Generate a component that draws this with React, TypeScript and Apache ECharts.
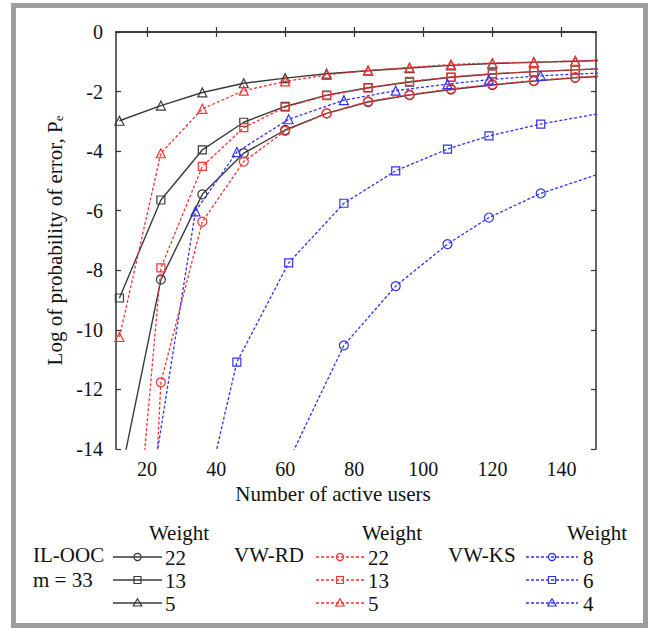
import React, { useEffect, useRef } from "react";
import * as echarts from "echarts";

// ---- data ----
const X_TICKS = [20, 40, 60, 80, 100, 120, 140];
const X_OOC = [12, 24, 36, 48, 60, 72, 84, 96, 108, 120, 132, 144, 156];
const OOC_W22 = [-15.1, -8.31, -5.45, -4.07, -3.29, -2.73, -2.35, -2.12, -1.93, -1.78, -1.65, -1.54, -1.46];
const OOC_W13 = [-8.93, -5.64, -3.96, -3.03, -2.5, -2.12, -1.87, -1.68, -1.52, -1.41, -1.33, -1.27, -1.21];
const OOC_W5 = [-2.98, -2.47, -2.03, -1.72, -1.55, -1.4, -1.3, -1.21, -1.12, -1.06, -1.02, -0.98, -0.94];
const RD_W22 = [-39, -11.76, -6.37, -4.35, -3.32, -2.73, -2.33, -2.1, -1.91, -1.76, -1.63, -1.52, -1.45];
const RD_W13 = [-23.6, -7.92, -4.51, -3.21, -2.52, -2.14, -1.88, -1.66, -1.51, -1.4, -1.33, -1.27, -1.21];
const RD_W5 = [-10.24, -4.07, -2.58, -1.97, -1.66, -1.44, -1.29, -1.19, -1.09, -1.04, -1.01, -0.97, -0.93];
const X_KS = [22, 34, 46, 61, 77, 92, 107, 119, 134, 165];
const KS_W8 = [null, null, null, -14.4, -10.52, -8.53, -7.12, -6.23, -5.42, -4.22];
const KS_W6 = [null, -17.1, -11.08, -7.75, -5.75, -4.66, -3.93, -3.49, -3.09, -2.45];
const KS_W4 = [-14.8, -6.02, -4.03, -2.93, -2.29, -1.97, -1.75, -1.6, -1.47, -1.3];

const GROUPS = ["IL-OOC", "VW-RD", "VW-KS"];
const WEIGHTS_OOC = ["22", "13", "5"];
const WEIGHTS_RD = ["22", "13", "5"];
const WEIGHTS_KS = ["8", "6", "4"];

const FONT = "Liberation Serif";
const BLACK = "#3a3a3a";
const RED = "#ff3030";
const BLUE = "#3030ff";

const zip = (xs: number[], ys: (number | null)[]) =>
  xs.map((x, i) => [x, ys[i]]);

function mkSeries(name: string, xs: number[], ys: (number | null)[], color: string, symbol: string, dashed: boolean) {
  return {
    type: "line",
    name,
    data: zip(xs, ys),
    symbol,
    symbolSize: symbol === "rect" ? 8 : 9,
    showAllSymbol: true,
    clip: true,
    connectNulls: false,
    lineStyle: { color, width: dashed ? 1.3 : 1.4, type: dashed ? [3, 2] : "solid" },
    itemStyle: { color: "rgba(0,0,0,0)", borderColor: color, borderWidth: 1.2 },
    emphasis: { disabled: true },
    z: dashed ? 3 : 2,
  };
}

function legendBlock(label: string, label2: string | null, weights: string[], color: string, dashed: boolean,
  labelX: number, lineX1: number, lineX2: number, valX: number, headX: number) {
  const rows = [557, 580, 603];
  const shapes = ["circle", "rect", "triangle"];
  const els: any[] = [];
  const ts = { fontFamily: FONT, fontSize: 21, fill: "#111" };
  els.push({ type: "text", x: headX, y: 533, style: { ...ts, text: "Weight", align: "center", verticalAlign: "middle" } });
  els.push({ type: "text", x: labelX, y: rows[0] - 2, style: { ...ts, text: label, align: "left", verticalAlign: "middle" } });
  if (label2) els.push({ type: "text", x: labelX, y: rows[1], style: { ...ts, text: label2, align: "left", verticalAlign: "middle" } });
  const mx = (lineX1 + lineX2) / 2;
  rows.forEach((y, i) => {
    els.push({
      type: "line",
      shape: { x1: lineX1, y1: y, x2: lineX2, y2: y },
      style: { stroke: color, lineWidth: dashed ? 1.3 : 1.5, lineDash: dashed ? [3, 2] : null },
    });
    const ms = { fill: "rgba(0,0,0,0)", stroke: color, lineWidth: 1.2 };
    if (shapes[i] === "circle") els.push({ type: "circle", shape: { cx: mx, cy: y, r: 3.6 }, style: ms });
    else if (shapes[i] === "rect") els.push({ type: "rect", shape: { x: mx - 3.5, y: y - 3.5, width: 7, height: 7 }, style: ms });
    else els.push({ type: "polygon", shape: { points: [[mx, y - 4.2], [mx + 4.2, y + 3], [mx - 4.2, y + 3]] }, style: ms });
    els.push({ type: "text", x: valX, y: y + 1, style: { ...ts, text: weights[i], align: "left", verticalAlign: "middle" } });
  });
  return els;
}

export default function App() {
  const ref = useRef<HTMLDivElement>(null);
  useEffect(() => {
    if (!ref.current) return;
    const chart = echarts.init(ref.current, null, { renderer: "svg" });
    const axisLine = { lineStyle: { color: "#333", width: 1.5 } };
    const tick = { inside: true, length: 5, lineStyle: { color: "#333", width: 1.2 } };
    const label = { fontFamily: FONT, fontSize: 20, color: "#111" };
    chart.setOption({
      animation: false,
      backgroundColor: "#fff",
      textStyle: { fontFamily: FONT },
      grid: { left: 116, right: 53, top: 32, bottom: 181, containLabel: false },
      xAxis: [
        {
          type: "value", min: 11, max: 150, position: "bottom",
          axisLine: { show: true, ...axisLine },
          axisTick: { show: true, ...tick, customValues: X_TICKS },
          axisLabel: { ...label, margin: 10, customValues: X_TICKS },
          splitLine: { show: false },
          name: "Number of active users", nameLocation: "middle", nameGap: 31,
          nameTextStyle: { fontFamily: FONT, fontSize: 21, color: "#111", padding: [0, 46, 0, 0] },
        },
        {
          type: "value", min: 11, max: 150, position: "top",
          axisLine: { show: true, ...axisLine },
          axisTick: { show: true, ...tick, customValues: X_TICKS },
          axisLabel: { show: false, customValues: X_TICKS },
          splitLine: { show: false },
        },
      ],
      yAxis: [
        {
          type: "value", min: -14, max: 0, interval: 2, position: "left",
          axisLine: { show: true, ...axisLine },
          axisTick: { show: true, ...tick },
          axisLabel: { ...label, margin: 13 },
          splitLine: { show: false },
          name: "Log of probability of error, P{sub|e}", nameLocation: "middle", nameGap: 49,
          nameTextStyle: {
            fontFamily: FONT, fontSize: 21, color: "#111",
            rich: { sub: { fontFamily: FONT, fontSize: 13, color: "#111", verticalAlign: "bottom", padding: [8, 0, 0, 0] } },
          },
        },
        {
          type: "value", min: -14, max: 0, interval: 2, position: "right",
          axisLine: { show: true, ...axisLine },
          axisTick: { show: true, ...tick },
          axisLabel: { show: false },
          splitLine: { show: false },
        },
      ],
      series: [
        mkSeries("IL-OOC 22", X_OOC, OOC_W22, BLACK, "circle", false),
        mkSeries("IL-OOC 13", X_OOC, OOC_W13, BLACK, "rect", false),
        mkSeries("IL-OOC 5", X_OOC, OOC_W5, BLACK, "triangle", false),
        mkSeries("VW-RD 22", X_OOC, RD_W22, RED, "circle", true),
        mkSeries("VW-RD 13", X_OOC, RD_W13, RED, "rect", true),
        mkSeries("VW-RD 5", X_OOC, RD_W5, RED, "triangle", true),
        mkSeries("VW-KS 8", X_KS, KS_W8, BLUE, "circle", true),
        mkSeries("VW-KS 6", X_KS, KS_W6, BLUE, "rect", true),
        mkSeries("VW-KS 4", X_KS, KS_W4, BLUE, "triangle", true),
      ],
      graphic: [
        {
          type: "rect", silent: true,
          shape: { x: 13.5, y: 5.5, width: 632, height: 620 },
          style: { fill: "none", stroke: "#9d9d9d", lineWidth: 5 },
        },
        ...legendBlock(GROUPS[0], "m = 33", WEIGHTS_OOC, BLACK, false, 33, 113, 162, 165, 179),
        ...legendBlock(GROUPS[1], null, WEIGHTS_RD, RED, true, 234, 316, 364, 368, 392),
        ...legendBlock(GROUPS[2], null, WEIGHTS_KS, BLUE, true, 448, 526, 578, 583, 597),
      ],
    });
    return () => chart.dispose();
  }, []);
  return (
    <div
      ref={ref}
      style={{ position: "absolute", left: 0, top: 0, width: 649, height: 630 }}
    />
  );
}
